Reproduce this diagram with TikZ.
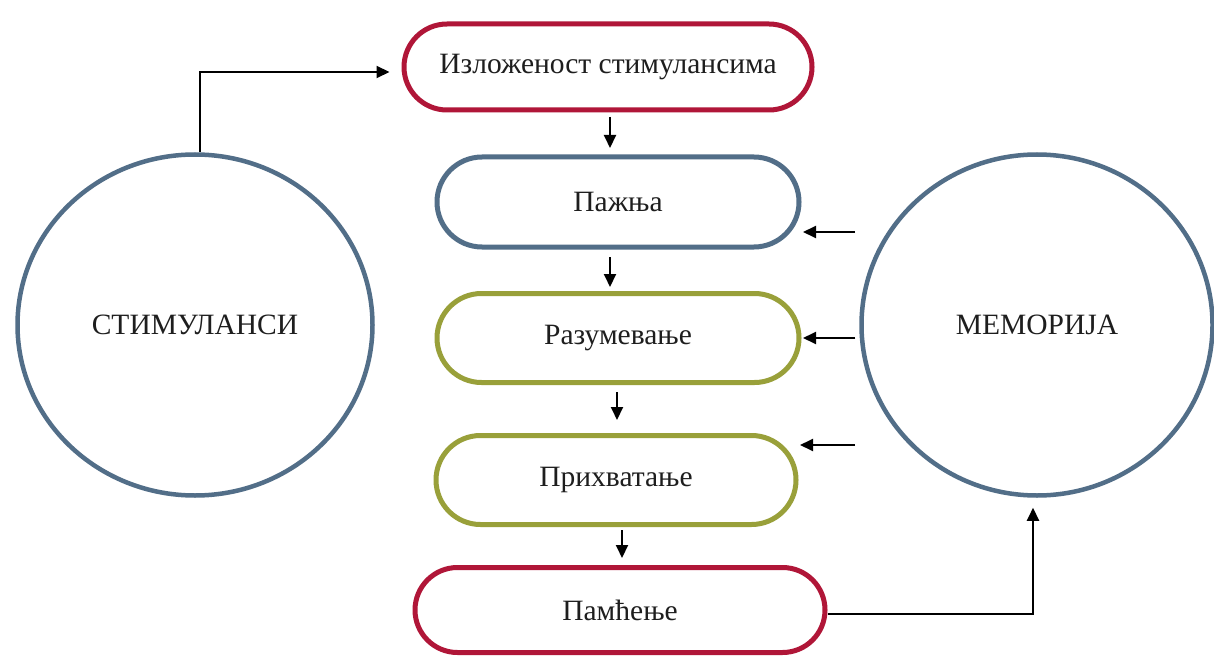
\documentclass[tikz,border=0pt]{standalone}
\usepackage{fontspec}
\setmainfont{Liberation Serif}
\usetikzlibrary{arrows.meta,shapes.geometric,shapes.misc}
\definecolor{cred}{RGB}{176,22,56}
\definecolor{cblue}{RGB}{82,110,136}
\definecolor{colive}{RGB}{153,160,58}
\definecolor{ctext}{RGB}{30,30,30}
\tikzset{
  pill/.style={draw, rounded rectangle, line width=5pt, fill=white,
    text=ctext, font=\fontsize{29.5}{32}\selectfont, inner sep=0pt},
  bigcirc/.style={draw=cblue, ellipse, line width=4.5pt, inner sep=0pt,
    text=ctext, font=\fontsize{29.5}{32}\selectfont},
  arr/.style={draw=black, line width=2pt, -{Triangle[length=13pt,width=12pt]}}
}
\begin{document}
\begin{tikzpicture}[x=1pt,y=1pt]
\useasboundingbox[fill=white] (0,0) rectangle (1214,657);
\node[bigcirc, minimum width=355pt, minimum height=341pt] (c1) at (195,332) {СТИМУЛАНСИ};
\node[bigcirc, minimum width=351pt, minimum height=341pt] (c2) at (1037,332) {МЕМОРИЈА};
\node[pill, draw=cred, minimum width=408pt, minimum height=86pt] (b1) at (608,590) {Изложеност стимулансима};
\node[pill, draw=cblue, minimum width=362pt, minimum height=90pt] (b2) at (618,455) {Пажња};
\node[pill, draw=colive, minimum width=362pt, minimum height=89pt] (b3) at (618,319) {Разумевање};
\node[pill, draw=colive, minimum width=360pt, minimum height=89pt] (b4) at (616,177) {Прихватање};
\node[pill, draw=cred, minimum width=410pt, minimum height=85pt] (b5) at (620,47) {Памћење};
% top connector
\draw[arr] ([xshift=5pt]c1.north) |- ([xshift=-12pt,yshift=-5pt]b1.west);
% downward arrows
\draw[arr, shorten <=4.5pt, shorten >=6.5pt] ([xshift=2pt]b1.south) -- ([xshift=2pt]b1.south |- b2.north);
\draw[arr, shorten <=7.5pt, shorten >=4pt] ([xshift=-8pt]b2.south) -- ([xshift=-8pt]b2.south |- b3.north);
\draw[arr, shorten <=7pt, shorten >=13pt] ([xshift=-1pt]b3.south) -- ([xshift=-1pt]b3.south |- b4.north);
\draw[arr, shorten <=3pt, shorten >=7pt] ([xshift=6pt]b4.south) -- ([xshift=6pt]b4.south |- b5.north);
% arrows from memory
\coordinate (m1) at (855,425);
\coordinate (m3) at (855,212);
\draw[arr, shorten >=1.5pt] (m1) -- (b2.east |- m1);
\draw[arr, shorten <=4pt, shorten >=1.5pt] (c2.west |- b3.east) -- (b3.east);
\draw[arr, shorten >=1.5pt] (m3) -- (b4.east |- m3);
% bottom connector
\draw[arr] ([yshift=-4pt]b5.east) -| ([xshift=-4pt,yshift=-10pt]c2.south);
\end{tikzpicture}
\end{document}
